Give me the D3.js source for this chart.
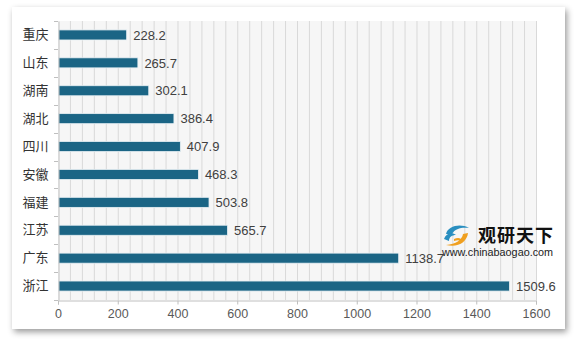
<!DOCTYPE html>
<html><head><meta charset="utf-8">
<script src="https://cdn.jsdelivr.net/npm/d3@7"></script>
<style>
html,body{margin:0;padding:0;background:#fff;}
svg{display:block;font-family:"Liberation Sans",Arial,sans-serif;}
</style></head>
<body>
<svg id="c" width="578" height="342"></svg>
<script>
const categories = ["重庆","山东","湖南","湖北","四川","安徽","福建","江苏","广东","浙江"];
const values = [228.2,265.7,302.1,386.4,407.9,468.3,503.8,565.7,1138.7,1509.6];
const xTicks = [0,200,400,600,800,1000,1200,1400,1600];
const minorStep = 40;

const svg = d3.select("#c");
const defs = svg.append("defs");
const f = defs.append("filter").attr("id","sh").attr("x","-5%").attr("y","-5%").attr("width","112%").attr("height","120%");
f.append("feDropShadow").attr("dx",2).attr("dy",3).attr("stdDeviation",3).attr("flood-color","#000").attr("flood-opacity",0.4);

svg.append("rect").attr("x",12).attr("y",7).attr("width",553).attr("height",322).attr("fill","#fff").attr("filter","url(#sh)");

const m = {l:58, r:536, t:21, b:300};
const x = d3.scaleLinear().domain([0,1600]).range([m.l,m.r]);
const y = d3.scaleBand().domain(categories).range([m.t,m.b]).paddingInner(0.64).paddingOuter(0.32);
const yb = d3.scaleBand().domain(categories).range([m.t,m.b]);

svg.append("rect").attr("x",m.l).attr("y",m.t).attr("width",m.r-m.l).attr("height",m.b-m.t).attr("fill","#f6f6f6");
const grid = d3.range(minorStep,1600+1,minorStep);
svg.append("g").selectAll("line").data(grid).join("line")
  .attr("x1",d=>x(d)+0.5).attr("x2",d=>x(d)+0.5).attr("y1",m.t).attr("y2",m.b)
  .attr("stroke","#d9d9d9").attr("stroke-width",1);

// bars
svg.append("g").selectAll("rect").data(values).join("rect")
  .attr("x",x(0)+0.5).attr("y",(d,i)=>y(categories[i]))
  .attr("width",d=>x(d)-x(0)).attr("height",y.bandwidth())
  .attr("fill","#1b6585").attr("stroke","#e8f0f4").attr("stroke-width",0.8);

svg.append("g").selectAll("text").data(values).join("text")
  .attr("x",d=>x(d)+7).attr("y",(d,i)=>y(categories[i])+y.bandwidth()/2)
  .attr("dy","0.36em").attr("font-size",13).attr("fill","#404040")
  .text(d=>d.toFixed(1));

// x axis
const xa = svg.append("g").attr("transform",`translate(0,${m.b+0.5})`)
  .call(d3.axisBottom(x).tickValues(xTicks).tickSize(4).tickPadding(5).tickFormat(d3.format("d")));
xa.select(".domain").attr("stroke","#bfbfbf");
xa.selectAll(".tick line").attr("stroke","#bfbfbf");
xa.selectAll("text").attr("font-size",12.5).attr("fill","#595959").attr("font-family","Liberation Sans, Arial, sans-serif");

// y axis
const ya = svg.append("g").attr("transform",`translate(${m.l+0.5},0)`)
  .call(d3.axisLeft(yb).tickSize(0).tickPadding(10));
ya.select(".domain").attr("stroke","#bfbfbf");
ya.selectAll("text").attr("font-size",13).attr("fill","#333").attr("font-family","Noto Sans CJK SC, sans-serif");
// boundary ticks
svg.append("g").selectAll("line").data(d3.range(categories.length+1)).join("line")
  .attr("x1",m.l-4).attr("x2",m.l)
  .attr("y1",i=>Math.round(m.t+i*yb.step())+0.5).attr("y2",i=>Math.round(m.t+i*yb.step())+0.5)
  .attr("stroke","#bfbfbf");

// logo
const lg = svg.append("g").attr("transform","translate(442,224)");
lg.append("path").attr("d","M4,10 C6,2 18,-1 27,4 C21,3 13,4 10,10 Z").attr("fill","#2a8fc0");
lg.append("path").attr("d","M2,15 C4,9 10,8 14,11 C10,11 7,13 7,17 Z").attr("fill","#2a8fc0");
lg.append("path").attr("d","M26,9 C25,18 16,24 4,21 C14,20 20,16 21,10 Z").attr("fill","#f0a020");
lg.append("path").attr("d","M12,15 C16,13 20,14 19,17 C17,16 15,16 12,17 Z").attr("fill","#f0a020");
svg.append("text").attr("x",478).attr("y",242).attr("font-size",18).attr("font-weight","bold")
  .attr("font-family","Noto Sans CJK SC, sans-serif").attr("fill","#111").attr("letter-spacing",1).text("观研天下");
svg.append("text").attr("x",442).attr("y",256).attr("font-size",10.8)
  .attr("font-family","Liberation Sans, Arial, sans-serif").attr("fill","#222").text("www.chinabaogao.com");
</script>
</body></html>
